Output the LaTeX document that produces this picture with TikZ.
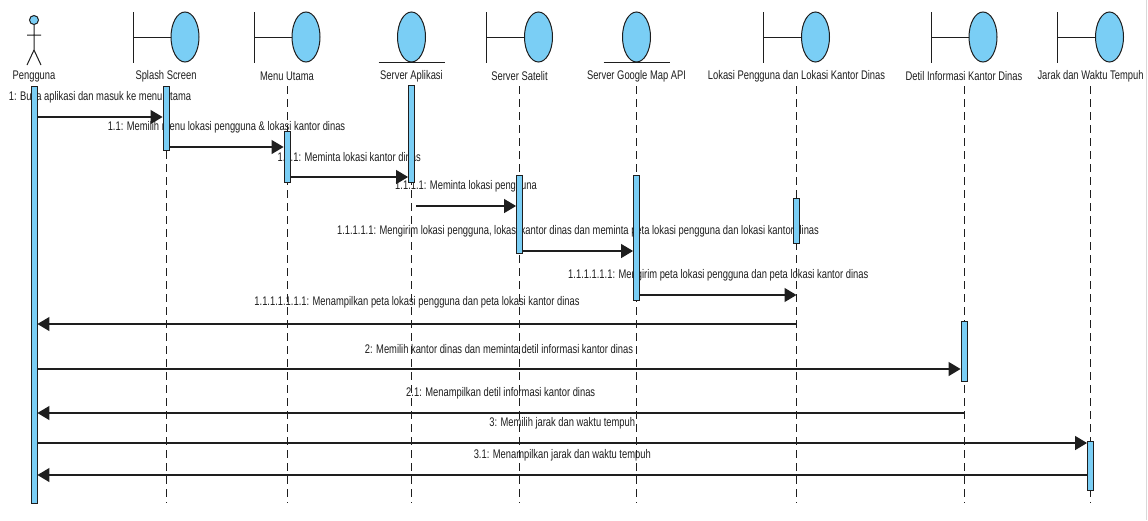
\documentclass[tikz,border=0pt]{standalone}
\usepackage{fontspec}
\setmainfont{Liberation Sans}[FakeStretch=0.75]
\usetikzlibrary{arrows.meta}
\definecolor{objblue}{RGB}{122,206,245}
\definecolor{ink}{RGB}{30,30,30}
\pgfdeclarelayer{background}
\pgfsetlayers{background,main}
\begin{document}
\begin{tikzpicture}[x=1pt,y=-1pt,
  every node/.style={font=\fontsize{12.5}{14}\selectfont, text=ink, inner sep=0pt},
  lifeline/.style={draw=ink, line width=0.9pt, dash pattern=on 8pt off 5pt},
  actbar/.style={draw=ink, fill=objblue, line width=0.9pt, minimum width=6pt, inner sep=0pt, anchor=north},
  msg/.style={draw=ink, line width=1.3pt, -{Triangle[length=12pt,width=14pt]}},
  mlabel/.style={midway, yshift=20pt},
  headline/.style={draw=ink, line width=1pt},
  headball/.style={draw=ink, fill=objblue, line width=1pt},
  hlabel/.style={anchor=center}
]
\useasboundingbox (0,0) rectangle (1148,520);
\draw[black!15, line width=0.8pt] (1146,0) -- (1146,520);

% ---- lifeline tops and bottoms
\coordinate (lP) at (34,86);     \coordinate (eP) at (34,503);
\coordinate (lS) at (166,86);    \coordinate (eS) at (166,503);
\coordinate (lM) at (287,86);    \coordinate (eM) at (287,503);
\coordinate (lA) at (411.5,86);  \coordinate (eA) at (411.5,503);
\coordinate (lT) at (519.5,86);  \coordinate (eT) at (519.5,503);
\coordinate (lG) at (636.5,86);  \coordinate (eG) at (636.5,503);
\coordinate (lL) at (796.5,86);  \coordinate (eL) at (796.5,503);
\coordinate (lD) at (964,86);    \coordinate (eD) at (964,503);
\coordinate (lJ) at (1090.5,86); \coordinate (eJ) at (1090.5,503);

\foreach \n in {S,M,A,T,G,L,D,J} {\draw[lifeline] (l\n) -- (e\n);}

% ---- heads
% actor
\draw[headball] (34,20) circle (4.5);
\draw[headline] (34,24.5) -- (34,50) (27,35) -- (41,35) (27,65) -- (34,50) -- (41,65);
\node[hlabel] (tP) at (34,76) {Pengguna};
% boundaries
\foreach \x/\n/\t in {166/S/Splash Screen, 287/M/Menu Utama, 519.5/T/Server Satelit,
  796.5/L/Lokasi Pengguna dan Lokasi Kantor Dinas, 964/D/Detil Informasi Kantor Dinas,
  1090.5/J/Jarak dan Waktu Tempuh} {
  \draw[headline] (\x-33,12) -- (\x-33,63) (\x-33,37) -- (\x+5,37);
  \draw[headball] (\x+19,37) ellipse (14 and 25);
  \node[hlabel] (t\n) at (\x,76) {\t};
}
% entities
\foreach \x/\n/\t in {411.5/A/Server Aplikasi, 636.5/G/Server Google Map API} {
  \draw[headball] (\x,37) ellipse (14 and 25);
  \draw[headline] (\x-33,62) -- (\x+33,62);
  \node[hlabel] (t\n) at (\x,76) {\t};
}

% ---- activation bars
\node[actbar, minimum height=417pt] (bP) at (34,86) {};
\node[actbar, minimum height=64pt]  (bS) at (166,86) {};
\node[actbar, minimum height=51pt]  (bM) at (287,131) {};
\node[actbar, minimum height=97pt]  (bA) at (411.5,85) {};
\node[actbar, minimum height=78pt]  (bT) at (519.5,175) {};
\node[actbar, minimum height=125pt] (bG) at (636.5,175) {};
\node[actbar, minimum height=45pt]  (bL) at (796.5,198) {};
\node[actbar, minimum height=60pt]  (bD) at (964,321) {};
\node[actbar, minimum height=49pt]  (bJ) at (1090.5,441) {};

\coordinate (a4) at (416,206);

% ---- messages
\begin{pgfonlayer}{background}
\draw[msg] (bP.east |- 0,117) -- node[mlabel] (m1) {1: Buka aplikasi dan masuk ke menu utama} (bS.west |- 0,117);
\draw[msg] (bS.east |- 0,147) -- node[mlabel] (m2) {1.1: Memilih menu lokasi pengguna \& lokasi kantor dinas} (bM.west |- 0,147);
\draw[msg] (bM.east |- 0,177) -- node[mlabel] (m3) {1.1.1: Meminta lokasi kantor dinas} (bA.west |- 0,177);
\draw[msg] (a4) -- node[mlabel] (m4) {1.1.1.1: Meminta lokasi pengguna} (bT.west |- a4);
\draw[msg] (bT.east |- 0,251) -- node[mlabel] (m5) {1.1.1.1.1: Mengirim lokasi pengguna, lokasi kantor dinas dan meminta peta lokasi pengguna dan lokasi kantor dinas} (bG.west |- 0,251);
\draw[msg] (bG.east |- 0,295) -- node[mlabel] (m6) {1.1.1.1.1.1: Mengirim peta lokasi pengguna dan peta lokasi kantor dinas} (lL |- 0,295);
\draw[msg] (lL |- 0,324) -- node[mlabel, yshift=2pt] (m7) {1.1.1.1.1.1.1: Menampilkan peta lokasi pengguna dan peta lokasi kantor dinas} (bP.east |- 0,324);
\draw[msg] (bP.east |- 0,369) -- node[mlabel] (m8) {2: Memilih kantor dinas dan meminta detil informasi kantor dinas} (bD.west |- 0,369);
\draw[msg] (lD |- 0,413) -- node[mlabel] (m9) {2.1: Menampilkan detil informasi kantor dinas} (bP.east |- 0,413);
\draw[msg] (bP.east |- 0,443) -- node[mlabel] (m10) {3: Memilih jarak dan waktu tempuh} (bJ.west |- 0,443);
\draw[msg] (bJ.west |- 0,475) -- node[mlabel] (m11) {3.1: Menampilkan jarak dan waktu tempuh} (bP.east |- 0,475);
\end{pgfonlayer}
\end{tikzpicture}
\end{document}
